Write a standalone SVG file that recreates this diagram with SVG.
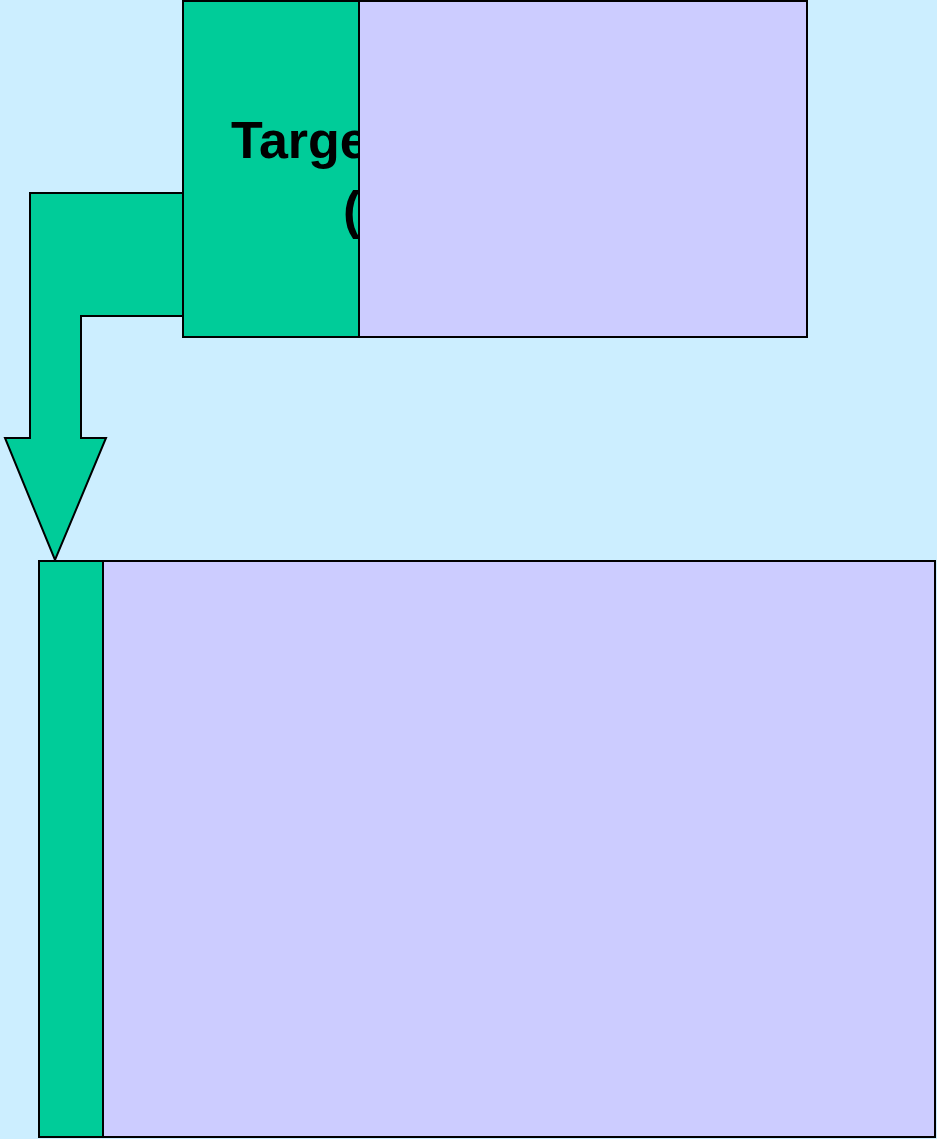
<svg xmlns="http://www.w3.org/2000/svg" width="937" height="1139" viewBox="0 0 937 1139">
<style>
.g{fill:#00cc99;stroke:#000;stroke-width:2}
.p{fill:#ccccff;stroke:#000;stroke-width:2}
.t{font-family:"Liberation Sans",Arial,sans-serif;font-weight:bold;font-size:52px;fill:#000}
</style>
<rect width="937" height="1139" fill="#cceeff"/>
<g id="connectors">
<path class="g" d="M183,193 L30,193 L30,438 L5,438 L55,560 L106,438 L81,438 L81,316 L183,316 Z"/>
</g>
<g id="node-top">
<rect class="g" x="183" y="1" width="176" height="336"/>
<text class="t" x="231" y="158">Targe</text>
<text class="t" x="343" y="228">(</text>
<rect class="p" x="359" y="1" width="448" height="336"/>
</g>
<g id="node-bottom">
<rect class="g" x="39" y="561" width="64" height="576"/>
<rect class="p" x="103" y="561" width="832" height="576"/>
</g>
</svg>
